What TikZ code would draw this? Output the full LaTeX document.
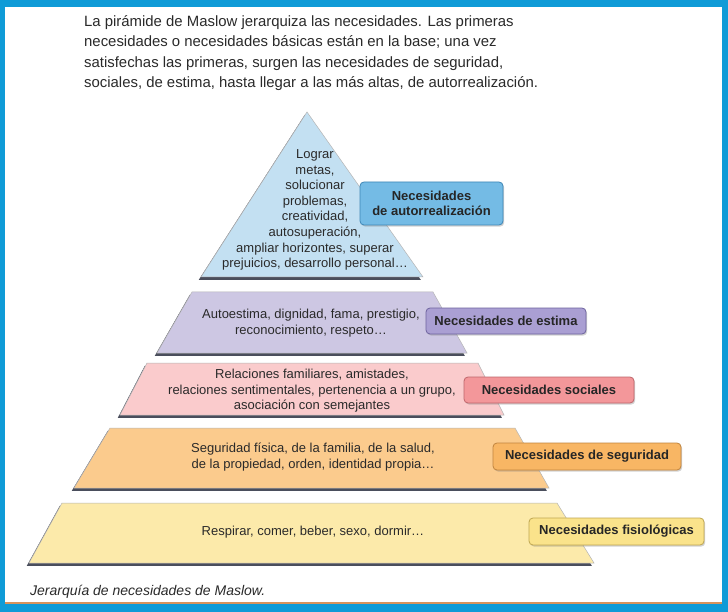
\documentclass[tikz,border=0pt]{standalone}
\usepackage{fontspec}
\setmainfont{Liberation Sans}
\usepackage{tikz}
\usetikzlibrary{shadows}
\usepackage{xcolor}
\definecolor{frameblue}{HTML}{0F9BD7}
\definecolor{capline}{HTML}{D8935C}
\definecolor{ink}{HTML}{2A2A2A}
\definecolor{edgedark}{HTML}{4A4E5C}
\definecolor{edgelight}{HTML}{B5B5B5}
\definecolor{autofill}{HTML}{C3E0F2}
\definecolor{autolbl}{HTML}{74BBE5}
\definecolor{autoline}{HTML}{3E86B6}
\definecolor{estifill}{HTML}{CDC7E3}
\definecolor{estilbl}{HTML}{AA9FD3}
\definecolor{estiline}{HTML}{6D639E}
\definecolor{socifill}{HTML}{FACBCC}
\definecolor{socilbl}{HTML}{F3979A}
\definecolor{sociline}{HTML}{BE666B}
\definecolor{segufill}{HTML}{FBCB8D}
\definecolor{segulbl}{HTML}{F8B664}
\definecolor{seguline}{HTML}{C0843E}
\definecolor{fisifill}{HTML}{FCEAAA}
\definecolor{fisilbl}{HTML}{FAE38B}
\definecolor{fisiline}{HTML}{BFA650}
\tikzset{
  tier/.style={fill=#1fill,draw=edgelight,line width=0.5pt},
  rim/.style={fill=edgedark,shift={(-2.2,2.8)}},
  body/.style={font=\fontsize{13}{15.6}\selectfont,text=ink,align=center,inner sep=0pt},
  tag/.style={draw=#1line,fill=#1lbl,rounded corners=4pt,line width=0.8pt,
    font=\fontsize{13}{15.6}\selectfont\bfseries,text=black!85,align=center,inner sep=0pt,
    drop shadow={shadow xshift=1.2pt,shadow yshift=-1.6pt,opacity=0.35}},
  intro/.style={font=\fontsize{14.9}{20.5}\selectfont,text=ink,align=left,inner sep=0pt},
  caption/.style={font=\fontsize{14}{16}\selectfont\itshape,text=ink,inner sep=0pt}
}

\begin{document}
\begin{tikzpicture}[x=1pt,y=-1pt]
  \useasboundingbox (0,0) rectangle (728,612);
  % marco
  \fill[frameblue] (0,0) rectangle (728,612);
  \fill[white] (5,7) rectangle (722,601.7);
  \fill[capline] (5,601.7) rectangle (722,604.4);

  \node[intro,anchor=north west] (head) at (84,15)
    {La pirámide de Maslow jerarquiza las necesidades. Las primeras\\
     necesidades o necesidades básicas están en la base; una vez\\
     satisfechas las primeras, surgen las necesidades de seguridad,\\
     sociales, de estima, hasta llegar a las más altas, de autorrealización.};

  % niveles
  \fill[rim] (307,112) -- (423,277) -- (201,277) -- cycle;
  \filldraw[tier=auto] (307,112) -- (423,277) -- (201,277) -- cycle;
  \fill[rim] (192,292) -- (433,292) -- (467,353) -- (157,353) -- cycle;
  \filldraw[tier=esti] (192,292) -- (433,292) -- (467,353) -- (157,353) -- cycle;
  \fill[rim] (147,363) -- (478,363) -- (504,415) -- (120,415) -- cycle;
  \filldraw[tier=soci] (147,363) -- (478,363) -- (504,415) -- (120,415) -- cycle;
  \fill[rim] (110,428) -- (515,428) -- (549,488) -- (74,488) -- cycle;
  \filldraw[tier=segu] (110,428) -- (515,428) -- (549,488) -- (74,488) -- cycle;
  \fill[rim] (62,503) -- (557,503) -- (594,563) -- (29,563) -- cycle;
  \filldraw[tier=fisi] (62,503) -- (557,503) -- (594,563) -- (29,563) -- cycle;

  % textos
  \node[body] (autotext) at (315,210) {Lograr\\metas,\\solucionar\\problemas,\\creatividad,\\autosuperación,\\ampliar horizontes, superar\\prejuicios, desarrollo personal…};
  \node[body] (estitext) at (311,323) {Autoestima, dignidad, fama, prestigio,\\reconocimiento, respeto…};
  \node[body] (socitext) at (312,391) {Relaciones familiares, amistades,\\relaciones sentimentales, pertenencia a un grupo,\\asociación con semejantes};
  \node[body] (segutext) at (313,457) {Seguridad física, de la familia, de la salud,\\de la propiedad, orden, identidad propia…};
  \node[body] (fisitext) at (313,532) {Respirar, comer, beber, sexo, dormir…};

  % etiquetas
  \node[tag=auto,minimum width=143pt,minimum height=43pt] (autotag) at (431.5,203.5) {Necesidades\\de autorrealización};
  \node[tag=esti,minimum width=160pt,minimum height=26pt] (estitag) at (506,321) {Necesidades de estima};
  \node[tag=soci,minimum width=170pt,minimum height=26pt] (socitag) at (549,390) {Necesidades sociales};
  \node[tag=segu,minimum width=188pt,minimum height=27pt] (segutag) at (587,456.5) {Necesidades de seguridad};
  \node[tag=fisi,minimum width=175pt,minimum height=27pt] (fisitag) at (616.5,531.5) {Necesidades fisiológicas};

  \node[caption,anchor=base west] (foot) at (30,595) {Jerarquía de necesidades de Maslow.};
\end{tikzpicture}
\end{document}
